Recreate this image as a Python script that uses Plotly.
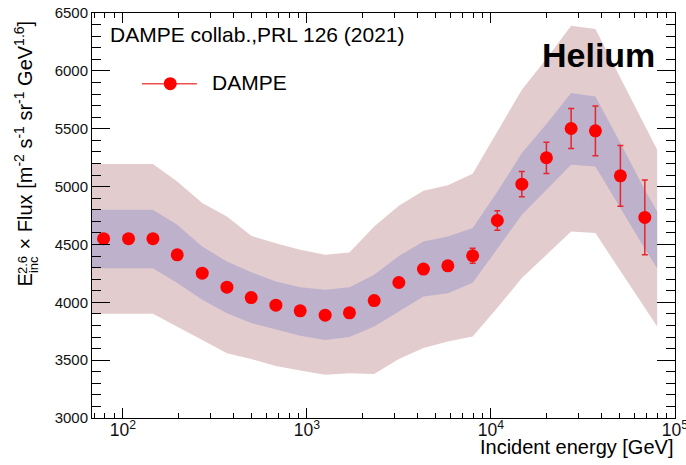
import math
import plotly.graph_objects as go

# DAMPE helium spectrum: E^2.6-weighted flux per energy bin
energy_gev = [78.6, 107.4, 145.7, 197.5, 270, 367.8, 498.3, 678.6, 919.6, 1257,
              1703, 2321, 3160, 4298, 5834, 7956, 10832, 14720, 20020, 27270,
              36950, 50500, 68550]
flux = [4550, 4550, 4550, 4410, 4252, 4131, 4041, 3975, 3926, 3889,
        3909, 4015, 4171, 4287, 4315, 4402, 4707, 5021, 5249, 5502,
        5482, 5093, 4733]
flux_err = [5, 5, 5, 6, 6, 7, 8, 9, 10, 12,
            14, 17, 20, 25, 35, 65, 85, 110, 135, 172,
            215, 262, 323]

# Model uncertainty bands (inner and outer envelopes)
band_energy = [68, 78.6, 107.4, 145.7, 197.5, 270, 367.8, 498.3, 678.6, 919.6,
               1257, 1703, 2321, 3160, 4298, 5834, 7956, 10832, 14720, 20020,
               27270, 36950, 50500, 68550, 80000]
outer_hi = [5195, 5195, 5195, 5195, 5044, 4857, 4741, 4574, 4511, 4454,
            4410, 4430, 4655, 4835, 4964, 5011, 5111, 5474, 5837, 6105,
            6390, 6362, 5941, 5517, 5318]
inner_hi = [4799, 4799, 4799, 4799, 4670, 4482, 4352, 4259, 4179, 4131,
            4108, 4131, 4237, 4400, 4525, 4568, 4641, 4955, 5290, 5540,
            5808, 5779, 5376, 4972, 4785]
inner_lo = [4295, 4295, 4295, 4295, 4166, 4021, 3906, 3820, 3762, 3710,
            3675, 3699, 3790, 3920, 4050, 4079, 4168, 4462, 4756, 4969,
            5188, 5174, 4817, 4462, 4295]
outer_lo = [3900, 3900, 3900, 3900, 3790, 3675, 3560, 3509, 3450, 3410,
            3373, 3387, 3381, 3509, 3606, 3661, 3704, 3952, 4209, 4410,
            4612, 4598, 4273, 3952, 3790]

x_range = [68, 1.0001e5]
y_range = [3000, 6500]

# minor tick positions (all digits per decade on x, every 100 on y)
x_minor = [k * 10 ** d for d in range(1, 5) for k in range(2, 10)
           if x_range[0] <= k * 10 ** d <= x_range[1]]
y_minor = [v for v in range(y_range[0], y_range[1] + 1, 100) if v % 500]

FONT = "Liberation Sans, Arial, sans-serif"
RED = "#ff0000"
TICK = "black"

fig = go.Figure()

# outer band
fig.add_trace(go.Scatter(
    x=band_energy + band_energy[::-1],
    y=outer_hi + outer_lo[::-1],
    fill="toself", fillcolor="#e3cccd", line=dict(width=0),
    mode="lines", hoverinfo="skip", showlegend=False,
))
# inner band
fig.add_trace(go.Scatter(
    x=band_energy + band_energy[::-1],
    y=inner_hi + inner_lo[::-1],
    fill="toself", fillcolor="#bdb1cc", line=dict(width=0),
    mode="lines", hoverinfo="skip", showlegend=False,
))
# data points
fig.add_trace(go.Scatter(
    x=energy_gev, y=flux, mode="markers",
    marker=dict(color=RED, size=13, line=dict(width=0)),
    error_y=dict(type="data", array=flux_err, color="#e8262a",
                 thickness=1.5, width=3),
    showlegend=False, name="DAMPE",
))
# empty trace that anchors the overlay axes carrying the minor ticks
fig.add_trace(go.Scatter(x=[], y=[], xaxis="x2", yaxis="y2",
                         showlegend=False, hoverinfo="skip"))

log_range = [math.log10(x_range[0]), math.log10(x_range[1])]

fig.update_layout(
    xaxis=dict(
        type="log", range=log_range, dtick=1, exponentformat="power",
        showline=True, linecolor=TICK, mirror="allticks",
        ticks="inside", ticklen=10, tickcolor=TICK, tickwidth=1,
        showgrid=False, zeroline=False, automargin=False,
        ticklabeloverflow="allow", ticklabelstandoff=-3,
        tickfont=dict(family=FONT, size=14, color="#111111"),
    ),
    yaxis=dict(
        range=y_range, dtick=500,
        showline=True, linecolor=TICK, mirror="allticks",
        ticks="inside", ticklen=18, tickcolor=TICK, tickwidth=1,
        showgrid=False, zeroline=False, automargin=False,
        tickfont=dict(family=FONT, size=15, color="#111111"),
    ),
    xaxis2=dict(
        type="log", range=log_range, overlaying="x", anchor="y2", side="bottom",
        tickmode="array", tickvals=x_minor, showticklabels=False,
        ticks="inside", ticklen=5, tickcolor=TICK, tickwidth=1,
        mirror="allticks", showline=False, showgrid=False, zeroline=False,
        automargin=False,
    ),
    yaxis2=dict(
        range=y_range, overlaying="y", anchor="x2", side="left",
        tickmode="array", tickvals=y_minor, showticklabels=False,
        ticks="inside", ticklen=9, tickcolor=TICK, tickwidth=1,
        mirror="allticks", showline=False, showgrid=False, zeroline=False,
        automargin=False,
    ),
)

annotations = [
    dict(text="DAMPE collab.,PRL 126 (2021)", x=0.0267, y=0.948,
         xanchor="left", yanchor="middle", font=dict(size=21)),
    dict(text="<b>Helium</b>", x=0.9695, y=0.897,
         xanchor="right", yanchor="middle", font=dict(size=34)),
    dict(text="DAMPE", x=0.2028, y=0.828,
         xanchor="left", yanchor="middle", font=dict(size=21)),
    dict(text="Incident energy [GeV]", x=1.0, y=-0.071,
         xanchor="right", yanchor="middle", font=dict(size=20)),
    # rotated y-axis title, built from stacked pieces
    dict(text="E", x=-0.1152, y=0.3415, textangle=-90,
         xanchor="center", yanchor="middle", font=dict(size=20)),
    dict(text="2.6", x=-0.1195, y=0.3785, textangle=-90,
         xanchor="center", yanchor="middle", font=dict(size=13)),
    dict(text="inc", x=-0.1006, y=0.3785, textangle=-90,
         xanchor="center", yanchor="middle", font=dict(size=13)),
    dict(text="× Flux [m<sup>-2</sup> s<sup>-1</sup> sr<sup>-1</sup> GeV<sup>1.6</sup>]",
         x=-0.118, y=0.4106, textangle=-90,
         xanchor="center", yanchor="bottom", font=dict(size=20)),
]
for a in annotations:
    a.update(xref="paper", yref="paper", showarrow=False)
    a["font"].update(family=FONT, color="#000000")

# legend entry: line with marker
shapes = [
    dict(type="line", xref="paper", yref="paper", opacity=1,
         x0=0.0857, x1=0.18, y0=0.8254, y1=0.8254,
         line=dict(color="#f05050", width=1.5)),
    dict(type="circle", xref="paper", yref="paper", opacity=1,
         xsizemode="pixel", ysizemode="pixel",
         xanchor=0.1342, yanchor=0.8254,
         x0=-6.5, x1=6.5, y0=-6.5, y1=6.5,
         fillcolor=RED, line=dict(width=0)),
]

fig.update_layout(
    template="simple_white",
    width=686, height=465,
    margin=dict(l=92, r=11, t=13, b=47, autoexpand=False),
    paper_bgcolor="white", plot_bgcolor="white",
    annotations=annotations, shapes=shapes,
    showlegend=False,
    font=dict(family=FONT, color="#000000"),
)

fig.write_html("out.html")
